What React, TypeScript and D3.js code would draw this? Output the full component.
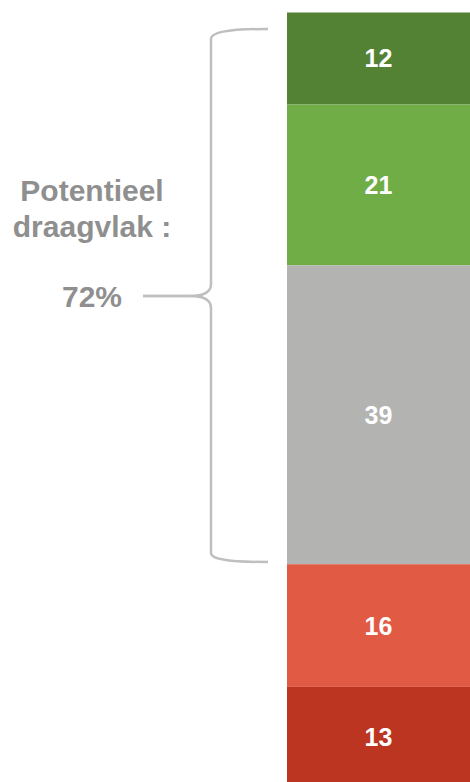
import React from "react";
import * as d3 from "d3";

const categories = ["A", "B", "C", "D", "E"];
const values = [12, 21, 39, 16, 13];
const colors = ["#548235", "#70AD47", "#B3B3B1", "#E05A44", "#BB3520"];
const leftLines = ["Potentieel", "draagvlak :"];
const leftValue = "72%";

const W = 470;
const H = 782;

export default function App() {
  const total = d3.sum(values);
  const y = d3.scaleLinear().domain([0, total]).range([12.5, 786.5]);
  const cum = d3.cumsum(values);
  const starts = values.map((v, i) => cum[i] - v);
  const x0 = 287;
  const x1 = 470;
  const font = "'Liberation Sans', Arial, sans-serif";
  const gray = "#8f8f8f";
  const upper = "M268,29 C240,29 211,30 211,39 L211,284 C211,292 205,296 190,296 L143,296";
  const lower = "M143,296 L190,296 C205,296 211,300 211,308 L211,553 C211,561 240,562 268,562";
  return (
    <svg
      width={W}
      height={H}
      style={{ position: "absolute", left: 0, top: 0, background: "#fff" }}
      fontFamily={font}
    >
      {categories.map((c, i) => {
        const top = y(starts[i]);
        const bot = y(cum[i]);
        return (
          <g key={c}>
            <rect x={x0} y={top} width={x1 - x0} height={bot - top} fill={colors[i]} />
            <text
              x={(x0 + x1) / 2}
              y={(top + bot) / 2}
              dy="0.36em"
              textAnchor="middle"
              fill="#fff"
              fontWeight="bold"
              fontSize={25}
            >
              {values[i]}
            </text>
          </g>
        );
      })}
      <path d={upper} fill="none" stroke="#bfbfbf" strokeWidth={2.5} />
      <path d={lower} fill="none" stroke="#bfbfbf" strokeWidth={2.5} />
      {leftLines.map((t, i) => (
        <text key={t} x={92} y={201 + i * 36} textAnchor="middle" fill={gray} fontWeight="bold" fontSize={30}>
          {t}
        </text>
      ))}
      <text x={92} y={307} textAnchor="middle" fill={gray} fontWeight="bold" fontSize={30}>
        {leftValue}
      </text>
    </svg>
  );
}
